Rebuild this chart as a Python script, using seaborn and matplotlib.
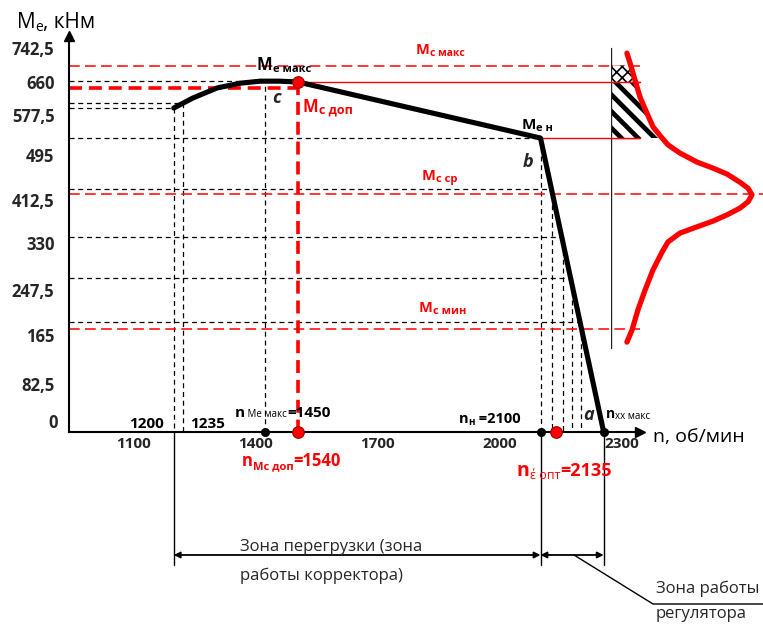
"""Engine torque characteristic M_e(n) with load torque distribution."""

import matplotlib

matplotlib.use("Agg")

import matplotlib.pyplot as plt
import matplotlib.transforms as mtransforms
import numpy as np
import seaborn as sns

W, H = 763, 624
RED = "#ff0000"

# engine torque characteristic, rpm -> kN*m
n_curve = [1200, 1247, 1306, 1363, 1412, 1460, 1505, 2100, 2255]
m_curve = [595, 620, 645, 657, 662, 662, 660, 530, 0]

# characteristic speeds, rpm
n_start = 1200
n_corr = 1223
n_me_max = 1425
n_mc_dop = 1505
n_nom = 2100
n_opt = 2138
n_xx = 2255

# characteristic torques, kN*m
m_start = 595
m_corr = 607
m_me_max = 662
m_dot = 660
m_mc_dop = 645
m_nom = 530
mc_max = 700
mc_sr = 423
mc_min = 176
m_steps = [433, 342, 268, 189]

# load torque probability density (relative units), upper branch first
dens = [0.113, 0.135, 0.170, 0.206, 0.255, 0.298, 0.362, 0.404, 0.489, 0.610,
        0.723, 0.823, 0.915, 0.972, 1.0,
        0.972, 0.915, 0.823, 0.723, 0.610, 0.489, 0.404, 0.362, 0.298, 0.241,
        0.191, 0.149, 0.113]
dens_m = [730, 706, 665, 622, 582, 553, 530, 516, 499, 482,
          471, 460, 445, 434, 422,
          409, 397, 384, 372, 361, 349, 332, 314, 283, 247,
          211, 174, 153]
n_upper = 15

y_ticks = [82.5, 165, 247.5, 330, 412.5, 495, 577.5, 660, 742.5]
y_labels = ["82,5", "165", "247,5", "330", "412,5", "495", "577,5", "660", "742,5"]
x_ticks = [1100, 1250, 1400, 1550, 1700, 1850, 2000, 2150, 2300]
x_labels = ["1100", "", "1400", "", "1700", "", "2000", "", "2300"]

# the torque axis of the source is drawn with uneven tick spacing:
# drawn height (px above the n axis) of each tick value
scale_m = [0, 82.5, 165, 247.5, 330, 412.5, 495, 577.5, 660, 742.5]
scale_h = [0, 48, 97, 142, 189, 232, 277, 317, 350, 384]
lo_k = scale_h[1] / scale_m[1]
hi_k = (scale_h[-1] - scale_h[-2]) / (scale_m[-1] - scale_m[-2])


def to_h(v):
    v = np.asarray(v, dtype=float)
    out = np.interp(v, scale_m, scale_h)
    out = np.where(v < 0, v * lo_k, out)
    return np.where(v > scale_m[-1], scale_h[-1] + (v - scale_m[-1]) * hi_k, out)


def from_h(h):
    h = np.asarray(h, dtype=float)
    out = np.interp(h, scale_h, scale_m)
    out = np.where(h < 0, h / lo_k, out)
    return np.where(h > scale_h[-1], scale_m[-1] + (h - scale_h[-1]) / hi_k, out)


# layout: horizontal px per rpm, where 1100 rpm sits, n axis height
PX_PER_RPM = 0.4075
N_LEFT = 1100 - 133 / PX_PER_RPM
N_RIGHT = N_LEFT + W / PX_PER_RPM
AXIS_PX = 432
N_AXIS = 943      # the torque axis stands here
N_TIP = 2345      # end of the n axis arrow
M_TIP = 772       # end of the torque axis arrow
N_GUIDE = 2344    # right end of the short guide lines
DIST_X0, DIST_PX = 611, 141   # density axis position and px per unit density

sns.set_style("white")
plt.rcParams["font.family"] = ["Open Sans", "DejaVu Sans"]

fig = plt.figure(figsize=(W / 100, H / 100), dpi=100)
ax = fig.add_axes([0, 0, 1, 1])
ax.set_yscale("function", functions=(to_h, from_h))
ref = mtransforms.Affine2D().scale(1 / W, -1 / H).translate(0, 1) + fig.transFigure
col_ref = mtransforms.blended_transform_factory(ax.transData, ref)

dash_k = dict(color="black", lw=0.9, ls=(0, (4, 3)), zorder=2)
dash_r = dict(color=RED, lw=1.1, ls=(0, (7, 3.5)), zorder=2)
dash_rb = dict(color=RED, lw=2.6, ls=(0, (3.6, 1.9)), zorder=2)

# guide lines from characteristic points
n_steps = np.interp(m_steps, m_curve[:-3:-1], n_curve[:-3:-1])
guides = [(n_start, m_start), (n_corr, m_corr), (n_me_max, m_me_max), (n_nom, m_nom)]
guides += list(zip(n_steps, m_steps))
for n_pt, m_pt in guides:
    ax.plot([N_AXIS, n_pt, n_pt], [m_pt, m_pt, 0], **dash_k)

ax.plot([N_AXIS, n_mc_dop], [m_mc_dop, m_mc_dop], **dash_rb)
ax.plot([n_mc_dop, n_mc_dop], [m_dot, 0], **dash_rb)
ax.plot([n_mc_dop, N_GUIDE], [m_dot, m_dot], color=RED, lw=1.0, zorder=2)
ax.plot([n_nom, N_GUIDE], [m_nom, m_nom], color=RED, lw=1.0, zorder=2)
ax.plot([N_AXIS, N_GUIDE], [mc_max, mc_max], **dash_r)
ax.plot([N_AXIS, N_RIGHT], [mc_sr, mc_sr], **dash_r)
ax.plot([N_AXIS, N_GUIDE], [mc_min, mc_min], **dash_r)

sns.lineplot(x=n_curve, y=m_curve, sort=False, estimator=None, color="black",
             linewidth=3.7, ax=ax, zorder=3)
ax.lines[-1].set_solid_joinstyle("round")

sns.scatterplot(x=[n_me_max, n_nom, n_xx], y=[0, 0, 0], color="black", s=36,
                edgecolor="black", ax=ax, zorder=5, clip_on=False)
sns.scatterplot(x=[n_mc_dop, n_opt, n_mc_dop], y=[0, 0, m_dot], color=RED, s=70,
                edgecolor="#9a0000", linewidth=0.8, ax=ax, zorder=6, clip_on=False)

# axes with arrows
for side in ["top", "right"]:
    ax.spines[side].set_visible(False)
ax.spines["left"].set_position(("data", N_AXIS))
ax.spines["bottom"].set_position(("data", 0))
ax.spines["left"].set_bounds(0, M_TIP)
ax.spines["bottom"].set_bounds(N_AXIS, N_TIP)
for sp in ["left", "bottom"]:
    ax.spines[sp].set_linewidth(1.5)
    ax.spines[sp].set_color("black")
ax.plot([N_AXIS], [M_TIP], marker="^", ms=7, color="black", clip_on=False, zorder=4)
ax.plot([N_TIP], [0], marker=">", ms=7, color="black", clip_on=False, zorder=4)

ax.set_yticks(y_ticks, y_labels)
ax.set_xticks(x_ticks, x_labels)
ax.tick_params(axis="y", direction="inout", length=13, width=1.2, pad=4, labelsize=12)
ax.tick_params(axis="x", direction="inout", length=12, width=1.2, pad=-2.5, labelsize=11)
for t in ax.get_yticklabels() + ax.get_xticklabels():
    t.set_fontweight("bold")
ax.grid(False)

# below the n axis: zones of regulation
for n_pt in [n_start, n_nom, n_xx]:
    ax.plot([n_pt, n_pt], [AXIS_PX, 565], transform=col_ref, color="black", lw=1.0)
arrow = dict(arrowstyle="<|-|>", color="black", lw=1.3, mutation_scale=9,
             shrinkA=0, shrinkB=0)
ax.annotate("", xy=(n_nom, 555), xytext=(n_start, 555), xycoords=col_ref, arrowprops=arrow)
ax.annotate("", xy=(n_xx, 555), xytext=(n_nom, 555), xycoords=col_ref, arrowprops=arrow)
ax.plot([574, 653, 763], [555, 604, 604], transform=ref, color="black", lw=1.0)

zone = dict(fontsize=12, transform=ref, va="baseline", ha="left")
ax.text(240, 551, "Зона перегрузки (зона", **zone)
ax.text(240, 580, "работы корректора)", **zone)
ax.text(656, 593, "Зона работы", **zone)
ax.text(656, 618, "регулятора", **zone)


def label(x, y, parts, color="black"):
    """Text pieces drawn one after another; drop moves a piece below the baseline."""
    prev = None
    for text, size, weight, drop in parts:
        kw = dict(fontsize=size, fontweight=weight, color=color, va="baseline", ha="left")
        if prev is None:
            prev = ax.text(x, y + drop, text, transform=ref, **kw)
        else:
            prev = ax.annotate(text, xy=(1, y + drop), xycoords=(prev, ref), **kw)


label(17, 28, [("M", 15, "normal", 0), ("e", 10, "normal", 3), (", кНм", 15, "normal", 0)])
label(257, 70, [("M", 12, "bold", 0), ("е макс", 8, "bold", 2)])
label(303, 112, [("M", 12, "bold", 0), ("с доп", 9, "bold", 2)], RED)
label(416, 54, [("M", 10.5, "bold", 0), ("с макс", 7.5, "bold", 2)], RED)
label(522, 129, [("M", 11, "bold", 0), ("е н", 8, "bold", 2)])
label(422, 180, [("M", 10.5, "bold", 0), ("с ср", 8, "bold", 2)], RED)
label(419, 312, [("M", 10.5, "bold", 0), ("с мин", 8, "bold", 2)], RED)
label(606, 418, [("n", 10, "bold", 0), ("хх макс", 7, "normal", 1)])
label(459, 423, [("n", 10.5, "bold", 0), ("н", 7, "bold", 2), (" =2100", 10.5, "bold", 0)])
label(235, 417, [("n", 11, "bold", 0), (" Me макс", 7, "normal", 0), ("=1450", 11, "bold", 0)])
label(242, 466, [("n", 12, "bold", 0), ("Mc доп", 8, "bold", 3), ("=1540", 12, "bold", 0)], RED)
label(517, 476, [("n", 14, "bold", 0), ("έ опт", 9, "normal", 3), ("=2135", 13, "bold", 0)], RED)
label(653, 442, [("n, об/мин", 14, "normal", 0)])
label(129, 428, [("1200", 11, "bold", 0)])
label(190, 428, [("1235", 11, "bold", 0)])
ax.text(58, 423, "0", transform=ref, fontsize=12, fontweight="bold", ha="right", va="center")
italic = dict(transform=ref, fontsize=13, fontweight="bold", fontstyle="italic", va="baseline")
ax.text(272, 103, "c", **italic)
ax.text(523, 167, "b", **italic)
ax.text(583, 420, "a", **italic)

ax.set_xlim(N_LEFT, N_RIGHT)
ax.set_ylim(float(from_h(AXIS_PX - H)), float(from_h(AXIS_PX)))

# load torque distribution drawn beside the characteristic
ax2 = fig.add_axes([DIST_X0 / W, 0, 1 - DIST_X0 / W, 1], sharey=ax)
ax2.axis("off")
ax2.plot([0, 0], [143, 742.5], color="#222222", lw=1.0)
m_up = np.array(dens_m[:n_upper])[::-1]
d_up = np.array(dens[:n_upper])[::-1]
ys = np.linspace(m_nom, m_dot, 40)
with plt.rc_context({"hatch.linewidth": 3.4}):
    stripes = ax2.fill_betweenx(ys, 0, np.interp(ys, m_up, d_up), facecolor="white",
                                edgecolor="black", hatch="\\\\", linewidth=0)
ys = np.linspace(m_dot, mc_max, 20)
with plt.rc_context({"hatch.linewidth": 1.2}):
    cross = ax2.fill_betweenx(ys, 0, np.interp(ys, m_up, d_up), facecolor="white",
                              edgecolor="black", hatch="xxx", linewidth=0)
for coll, lw in [(stripes, 3.4), (cross, 1.2)]:
    if hasattr(coll, "set_hatch_linewidth"):
        coll.set_hatch_linewidth(lw)
guide_end = ((N_GUIDE - N_LEFT) * PX_PER_RPM - DIST_X0) / DIST_PX
ax2.plot([0, guide_end], [m_dot, m_dot], color=RED, lw=1.0)
ax2.plot([0, guide_end], [m_nom, m_nom], color=RED, lw=1.0)
sns.lineplot(x=dens, y=dens_m, sort=False, estimator=None, color=RED, linewidth=3.8,
             ax=ax2)
ax2.lines[-1].set_solid_joinstyle("round")
ax2.set_xlim(0, (W - DIST_X0) / DIST_PX)

fig.savefig("out.png", dpi=100)
